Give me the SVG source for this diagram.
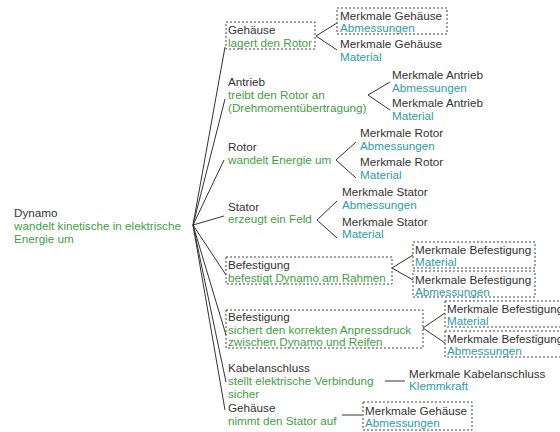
<svg xmlns="http://www.w3.org/2000/svg" width="560" height="432" viewBox="0 0 560 432">
<style>
text{font-family:"Liberation Sans",Arial,sans-serif;font-size:11.7px}
.t{fill:#333}
.g{fill:#3f9f3f}
.c{fill:#2c9ea6}
.box{fill:none;stroke:#444;stroke-width:1;stroke-dasharray:2,2}
.ln{fill:none;stroke:#333;stroke-width:1}
</style>
<rect width="560" height="432" fill="#fff"/>
<g id="connectors">
<path class="ln" d="M193,225L225,47M193,225L225,99M193,225L224,160M193,225L224,216M193,225L226,275M193,225L226,335M193,225L226,382M193,225L225,410"/>
<path class="ln" d="M337,23L316,36L337,50"/>
<path class="ln" d="M390,82L368,95L390,110"/>
<path class="ln" d="M356,142L336,160L356,178"/>
<path class="ln" d="M337,201L317,220L337,238"/>
<path class="ln" d="M413,255L392,268L413,280"/>
<path class="ln" d="M445,313L423,328L445,343"/>
<path class="ln" d="M385,381H405"/>
<path class="ln" d="M342,415H362"/>
</g>
<g id="root">
<text x="14" y="217" class="t">Dynamo</text>
<text x="14" y="230" class="g">wandelt kinetische in elektrische</text>
<text x="14" y="243" class="g">Energie um</text>
</g>
<g id="gehaeuse1">
<rect class="box" x="226" y="22" width="89" height="27"/>
<text x="228" y="34" class="t">Gehäuse</text>
<text x="228" y="47" class="g">lagert den Rotor</text>
</g>
<g id="antrieb">
<text x="228" y="86" class="t">Antrieb</text>
<text x="228" y="99" class="g">treibt den Rotor an</text>
<text x="228" y="112" class="g">(Drehmomentübertragung)</text>
</g>
<g id="rotor">
<text x="228" y="151" class="t">Rotor</text>
<text x="228" y="164" class="g">wandelt Energie um</text>
</g>
<g id="stator">
<text x="228" y="211" class="t">Stator</text>
<text x="228" y="223" class="g">erzeugt ein Feld</text>
</g>
<g id="befestigung1">
<rect class="box" x="226" y="257" width="166" height="27"/>
<text x="228" y="269" class="t">Befestigung</text>
<text x="228" y="282" class="g">befestigt Dynamo am Rahmen</text>
</g>
<g id="befestigung2">
<rect class="box" x="226" y="310" width="197" height="38"/>
<text x="228" y="321" class="t">Befestigung</text>
<text x="228" y="334" class="g">sichert den korrekten Anpressdruck</text>
<text x="228" y="346" class="g">zwischen Dynamo und Reifen</text>
</g>
<g id="kabelanschluss">
<text x="228" y="372" class="t">Kabelanschluss</text>
<text x="228" y="385" class="g">stellt elektrische Verbindung</text>
<text x="228" y="398" class="g">sicher</text>
</g>
<g id="gehaeuse2">
<text x="228" y="412" class="t">Gehäuse</text>
<text x="228" y="425" class="g">nimmt den Stator auf</text>
</g>
<g id="m-gehaeuse-abm">
<rect class="box" x="337" y="8" width="110" height="26"/>
<text x="340" y="20" class="t">Merkmale Gehäuse</text>
<text x="340" y="32" class="c">Abmessungen</text>
</g>
<g id="m-gehaeuse-mat">
<text x="340" y="48" class="t">Merkmale Gehäuse</text>
<text x="340" y="61" class="c">Material</text>
</g>
<g id="m-antrieb-abm">
<text x="392" y="79" class="t">Merkmale Antrieb</text>
<text x="392" y="92" class="c">Abmessungen</text>
</g>
<g id="m-antrieb-mat">
<text x="392" y="107" class="t">Merkmale Antrieb</text>
<text x="392" y="120" class="c">Material</text>
</g>
<g id="m-rotor-abm">
<text x="360" y="137" class="t">Merkmale Rotor</text>
<text x="360" y="150" class="c">Abmessungen</text>
</g>
<g id="m-rotor-mat">
<text x="360" y="166" class="t">Merkmale Rotor</text>
<text x="360" y="179" class="c">Material</text>
</g>
<g id="m-stator-abm">
<text x="342" y="196" class="t">Merkmale Stator</text>
<text x="342" y="209" class="c">Abmessungen</text>
</g>
<g id="m-stator-mat">
<text x="342" y="226" class="t">Merkmale Stator</text>
<text x="342" y="238" class="c">Material</text>
</g>
<g id="m-bef1-mat">
<rect class="box" x="413" y="242" width="122" height="26"/>
<text x="415" y="254" class="t">Merkmale Befestigung</text>
<text x="415" y="266" class="c">Material</text>
</g>
<g id="m-bef1-abm">
<rect class="box" x="413" y="271" width="122" height="26"/>
<text x="415" y="284" class="t">Merkmale Befestigung</text>
<text x="415" y="296" class="c">Abmessungen</text>
</g>
<g id="m-bef2-mat">
<rect class="box" x="445" y="301" width="125" height="26"/>
<text x="447" y="313" class="t">Merkmale Befestigung</text>
<text x="447" y="325" class="c">Material</text>
</g>
<g id="m-bef2-abm">
<rect class="box" x="445" y="331" width="125" height="26"/>
<text x="447" y="343" class="t">Merkmale Befestigung</text>
<text x="447" y="355" class="c">Abmessungen</text>
</g>
<g id="m-kabel">
<text x="409" y="378" class="t">Merkmale Kabelanschluss</text>
<text x="409" y="390" class="c">Klemmkraft</text>
</g>
<g id="m-gehaeuse2">
<rect class="box" x="363" y="402" width="109" height="28"/>
<text x="365" y="415" class="t">Merkmale Gehäuse</text>
<text x="365" y="427" class="c">Abmessungen</text>
</g>
</svg>
